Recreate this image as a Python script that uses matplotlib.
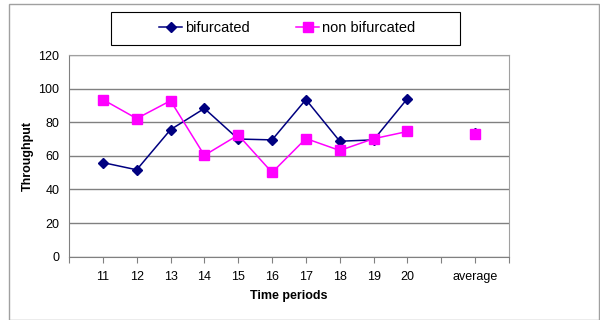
import numpy as np
import matplotlib.pyplot as plt
from matplotlib.patches import Rectangle

plt.rcParams['font.family'] = ['Liberation Sans', 'DejaVu Sans']

labels = ['11', '12', '13', '14', '15', '16', '17', '18', '19', '20', '', 'average']
bifurcated = [56, 51.7, 75.6, 88.2, 70, 69.5, 93.5, 68.7, 69.5, 94.1, None, 73.5]
non_bifurcated = [93.5, 82.2, 92.8, 60.3, 72.4, 50.1, 70.3, 63.2, 70.2, 74.5, None, 72.8]

x = np.arange(1, len(labels) + 1)
b = np.array([np.nan if v is None else v for v in bifurcated], dtype=float)
nb = np.array([np.nan if v is None else v for v in non_bifurcated], dtype=float)

fig = plt.figure(figsize=(6, 3.2), dpi=100)
ax = fig.add_axes([69/600, 1 - 256.7/320, 440/600, 201.7/320])

ax.plot(x, b, color='#000080', marker='D', markersize=5, lw=1.1, label='bifurcated')
ax.plot(x, nb, color='#FF00FF', marker='s', markersize=7, lw=1.1, label='non bifurcated')

ax.set_xlim(0, 13)
ax.set_ylim(0, 120)
ax.set_yticks(np.arange(0, 121, 20))
ax.set_xticks(np.arange(0, 14))
ax.set_xticklabels([''] + labels + [''], fontsize=9)
ax.tick_params(axis='y', labelsize=9, length=0, pad=7)
ax.tick_params(axis='x', direction='out', length=4, color='#808080', pad=6)
ax.grid(axis='y', color='#808080', lw=1)
for s in ['top', 'right']:
    ax.spines[s].set_color('#a0a0a0')
for s in ['left', 'bottom']:
    ax.spines[s].set_color('#808080')
ax.set_axisbelow(True)

ax.set_ylabel('Throughput', fontsize=9, fontweight='bold', labelpad=3)
ax.set_xlabel('Time periods', fontsize=9, fontweight='bold', labelpad=5)

# legend box drawn by hand, entries centred in it
fig.patches.append(Rectangle((111/600, 1 - 45/320), 349/600, 33/320, transform=fig.transFigure,
                             fill=False, edgecolor='black', lw=0.8))
fig.legend(loc='center', bbox_to_anchor=(287/600, 1 - 28.5/320), ncol=2, fontsize=10.5,
           frameon=False, handlelength=1.6, handletextpad=0.15, columnspacing=3.2)

fig.patches.append(Rectangle((9/600, 0.0), 590/600, 1 - 4/320, transform=fig.transFigure,
                             fill=False, edgecolor='#a0a0a0', lw=1))

fig.savefig('out.png')
